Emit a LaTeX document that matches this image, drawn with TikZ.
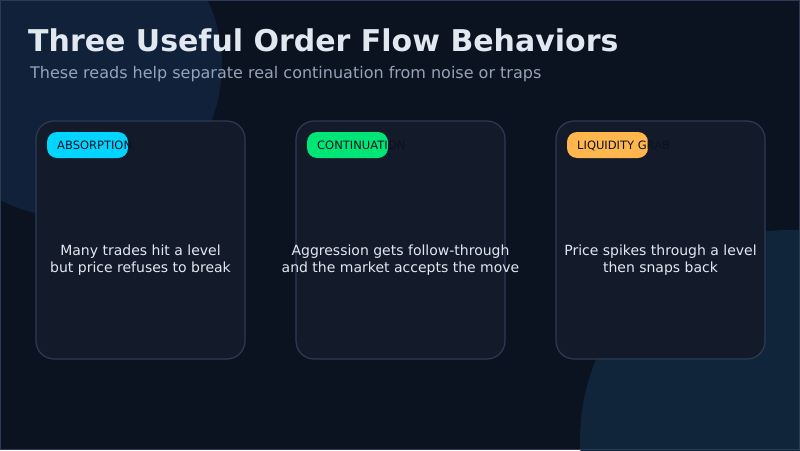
\documentclass[tikz,border=0pt]{standalone}
\usepackage{fontspec}
\setmainfont{DejaVu Sans}
\definecolor{bg}{HTML}{0B1220}
\definecolor{blob}{HTML}{12213A}
\definecolor{blob2}{HTML}{10253A}
\definecolor{card}{HTML}{131A2A}
\definecolor{cardline}{HTML}{2C3B55}
\definecolor{sub}{HTML}{94A3B8}
\definecolor{txt}{HTML}{E2E8F0}
\definecolor{pilltxt}{HTML}{0B1220}
\definecolor{cA}{HTML}{00D4FF}
\definecolor{cB}{HTML}{00E676}
\definecolor{cC}{HTML}{FFB74D}
\begin{document}
\begin{tikzpicture}[x=1pt,y=-1pt,
  cardbox/.style={draw=cardline,line width=1.2pt,fill=card,rounded corners=18pt},
  pill/.style={rounded corners=10pt},
  pilllabel/.style={anchor=west,text=pilltxt,font=\fontsize{11.5}{13}\selectfont,inner sep=0pt},
  body/.style={text=txt,font=\fontsize{14}{17.5}\selectfont,align=center}]
\useasboundingbox (0,0) rectangle (800,450);
\fill[bg] (0,0) rectangle (800,450);
\begin{scope}
\clip (0,0) rectangle (800,450);
\fill[blob] (70,65) circle (152);
\fill[blob2] (790,440) circle (210);
\end{scope}
\draw[cardline,line width=1pt] (0.5,0.5) rectangle (799.5,449.5);
\node[anchor=west,text=txt,font=\bfseries\fontsize{30}{35}\selectfont,inner sep=0pt] (title) at (28,40) {Three Useful Order Flow Behaviors};
\node[anchor=west,text=sub,font=\fontsize{16}{19}\selectfont,inner sep=0pt] (subtitle) at (30,74) {These reads help separate real continuation from noise or traps};
\foreach \i/\x/\c/\lab/\la/\lb in {
  a/36/cA/ABSORPTION/Many trades hit a level/but price refuses to break,
  b/296/cB/CONTINUATION/Aggression gets follow-through/and the market accepts the move,
  c/556/cC/LIQUIDITY GRAB/Price spikes through a level/then snaps back}{
  \draw[cardbox] (\x,121) rectangle ++(209,238);
  \coordinate (card\i) at (\x+104.5,240);
  \fill[\c,pill] (\x+11,132) rectangle ++(81,26);
  \node[pilllabel] (pill\i) at (\x+21,145.5) {\lab};
  \node[body] (body\i) at (\x+104.5,260) {\la\\\lb};
}
\end{tikzpicture}
\end{document}
